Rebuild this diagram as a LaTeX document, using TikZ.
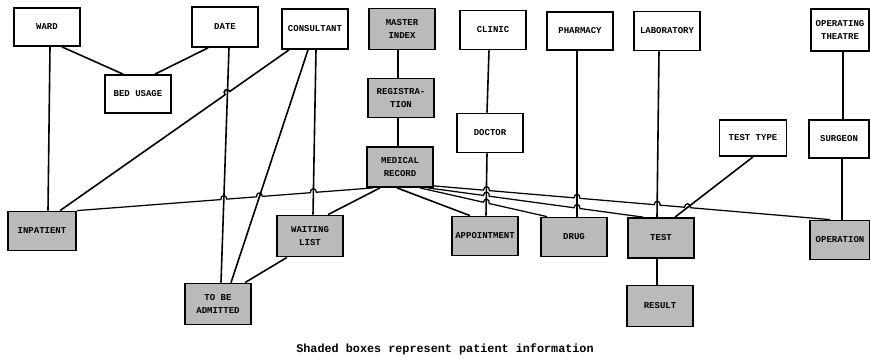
\documentclass[tikz,border=0pt]{standalone}
\usepackage{fontspec}
\newfontfamily\boxfont{Liberation Mono}
\usetikzlibrary{calc,intersections}
\begin{document}
\begin{tikzpicture}[x=1pt,y=1pt,
  box/.style={draw, line width=1.8pt, minimum width=66pt, minimum height=39pt, inner sep=1pt, align=center,
    font=\boxfont\bfseries\fontsize{9}{12.5}\selectfont},
  shaded/.style={box, fill=black!27},
  conn/.style={line width=1.6pt},
  thinconn/.style={line width=1.25pt},
  hop/.style={bend left=90, looseness=2.1}
]
\useasboundingbox (0,0) rectangle (870,-360);
% top row
\node[box, minimum height=38pt] (ward) at (47,-27) {WARD};
\node[box, minimum height=40pt] (date) at (225,-27) {DATE};
\node[box, minimum height=40pt] (consultant) at (315,-29) {CONSULTANT};
\node[shaded, minimum height=41pt] (masterindex) at (402,-29) {MASTER\\INDEX};
\node[box] (clinic) at (493,-30) {CLINIC};
\node[box, minimum height=38pt] (pharmacy) at (580,-31) {PHARMACY};
\node[box] (laboratory) at (667,-31) {LABORATORY};
\node[box, minimum width=58pt, minimum height=42pt] (optheatre) at (840,-30) {OPERATING\\THEATRE};
% middle
\node[box, minimum height=38pt] (bedusage) at (138,-94) {BED USAGE};
\node[shaded] (registration) at (401,-98) {REGISTRA-\\TION};
\node[box] (doctor) at (490,-133) {DOCTOR};
\node[box, minimum width=67pt, minimum height=36pt] (testtype) at (753,-138) {TEST TYPE};
\node[box, minimum width=60pt, minimum height=38pt] (surgeon) at (839,-139) {SURGEON};
\node[shaded, minimum height=40pt] (mr) at (400,-167) {MEDICAL\\RECORD};
% lower row
\node[shaded, minimum width=68pt] (inpatient) at (42,-231) {INPATIENT};
\node[shaded, minimum height=41pt] (waitinglist) at (310,-236) {WAITING\\LIST};
\node[shaded] (appointment) at (485,-236) {APPOINTMENT};
\node[shaded] (drug) at (574,-237) {DRUG};
\node[shaded, minimum height=40pt] (test) at (661,-238) {TEST};
\node[shaded, minimum width=60pt] (operation) at (840,-240) {OPERATION};
\node[shaded, minimum height=41pt] (result) at (660,-306) {RESULT};
\node[shaded, minimum height=41pt] (tba) at (218,-304) {TO BE\\ADMITTED};
% caption
\node[font=\boxfont\bfseries\fontsize{11.8}{14}\selectfont] (caption) at (445,-349) {Shaded boxes represent patient information};

% simple connectors
\draw[conn] ([xshift=3pt]ward.south) -- ([xshift=6pt]inpatient.north);
\draw[conn] ([xshift=15pt]ward.south) -- ([xshift=-15pt]bedusage.north);
\draw[conn] ([xshift=-17pt]date.south) -- ([xshift=17pt]bedusage.north);
\draw[conn, name path=vdate] ([xshift=4pt]date.south) -- ([xshift=3pt]tba.north);
\draw[conn, name path=lct] ([xshift=-7pt]consultant.south) -- ([xshift=13pt]tba.north);
\draw[conn, name path=vcons] ([xshift=1pt]consultant.south) -- ([xshift=3pt]waitinglist.north);
\draw[conn] ([xshift=-23pt]waitinglist.south) -- ([xshift=27pt]tba.north);
\draw[conn] ([xshift=-4pt]masterindex.south) -- ([xshift=-3pt]registration.north);
\draw[conn] ([xshift=-3pt]registration.south) -- ([xshift=-2pt]mr.north);
\draw[conn] ([xshift=-4pt]clinic.south) -- ([xshift=-3pt]doctor.north);
\draw[conn, name path=vdoc] ([xshift=-3pt]doctor.south) -- ([xshift=1pt]appointment.north);
\draw[conn, name path=vpharm] ([xshift=-3pt]pharmacy.south) -- ([xshift=3pt]drug.north);
\draw[conn, name path=vlab] ([xshift=-8pt]laboratory.south) -- ([xshift=-4pt]test.north);
\draw[conn] ([xshift=3pt]optheatre.south) -- ([xshift=4pt]surgeon.north);
\draw[conn] ([xshift=3pt]surgeon.south) -- ([xshift=2pt]operation.north);
\draw[conn, name path=ltt] (testtype.south) -- ([xshift=14pt]test.north);
\draw[conn] ([xshift=-4pt]test.south) -- ([xshift=-3pt]result.north);
\draw[conn] ([xshift=-20pt]mr.south) -- ([xshift=18pt]waitinglist.north);
\draw[conn] ([xshift=-3pt]mr.south) -- ([xshift=-15pt]appointment.north);

% consultant -> inpatient (hops over date line)
\coordinate (a5) at ([xshift=18pt]inpatient.north);
\coordinate (b5) at ([xshift=-26pt]consultant.south);
\path[name path=l5] (a5) -- (b5);
\path[name intersections={of=l5 and vdate, by=h5}];
\draw[conn] (a5) -- ($(h5)!3pt!(a5)$) to[hop] ($(h5)!3pt!(b5)$) -- (b5);

% medical record -> inpatient
\coordinate (a19) at (inpatient.north east);
\coordinate (b19) at ([xshift=-27pt]mr.south);
\path[name path=l19] (a19) -- (b19);
\path[name intersections={of=l19 and vdate, by=h19a}];
\path[name intersections={of=l19 and lct, by=h19b}];
\path[name intersections={of=l19 and vcons, by=h19c}];
\draw[thinconn] (a19) -- ($(h19a)!3pt!(a19)$) to[hop] ($(h19a)!3pt!(b19)$)
  -- ($(h19b)!3pt!(a19)$) to[hop] ($(h19b)!3pt!(b19)$)
  -- ($(h19c)!3pt!(a19)$) to[hop] ($(h19c)!3pt!(b19)$) -- (b19);

% medical record -> drug
\coordinate (a22) at ([xshift=20pt]mr.south);
\coordinate (b22) at ([xshift=-27pt]drug.north);
\path[name path=l22] (a22) -- (b22);
\path[name intersections={of=l22 and vdoc, by=h22a}];
\draw[thinconn] (a22) -- ($(h22a)!3pt!(a22)$) to[hop] ($(h22a)!3pt!(b22)$) -- (b22);

% medical record -> test
\coordinate (a23) at ([xshift=28pt]mr.south);
\coordinate (b23) at ([xshift=-18pt]test.north);
\path[name path=l23] (a23) -- (b23);
\path[name intersections={of=l23 and vdoc, by=h23a}];
\path[name intersections={of=l23 and vpharm, by=h23b}];
\draw[thinconn] (a23) -- ($(h23a)!3pt!(a23)$) to[hop] ($(h23a)!3pt!(b23)$)
  -- ($(h23b)!3pt!(a23)$) to[hop] ($(h23b)!3pt!(b23)$) -- (b23);

% medical record -> operation
\coordinate (a24) at ([yshift=2pt]mr.south east);
\coordinate (b24) at ([xshift=-10pt]operation.north);
\path[name path=l24] (a24) -- (b24);
\path[name intersections={of=l24 and vdoc, by=h24a}];
\path[name intersections={of=l24 and vpharm, by=h24b}];
\path[name intersections={of=l24 and vlab, by=h24c}];
\path[name intersections={of=l24 and ltt, by=h24d}];
\draw[thinconn] (a24) -- ($(h24a)!3pt!(a24)$) to[hop] ($(h24a)!3pt!(b24)$)
  -- ($(h24b)!3pt!(a24)$) to[hop] ($(h24b)!3pt!(b24)$)
  -- ($(h24c)!3pt!(a24)$) to[hop] ($(h24c)!3pt!(b24)$)
  -- ($(h24d)!3pt!(a24)$) to[hop] ($(h24d)!3pt!(b24)$) -- (b24);
\end{tikzpicture}
\end{document}
